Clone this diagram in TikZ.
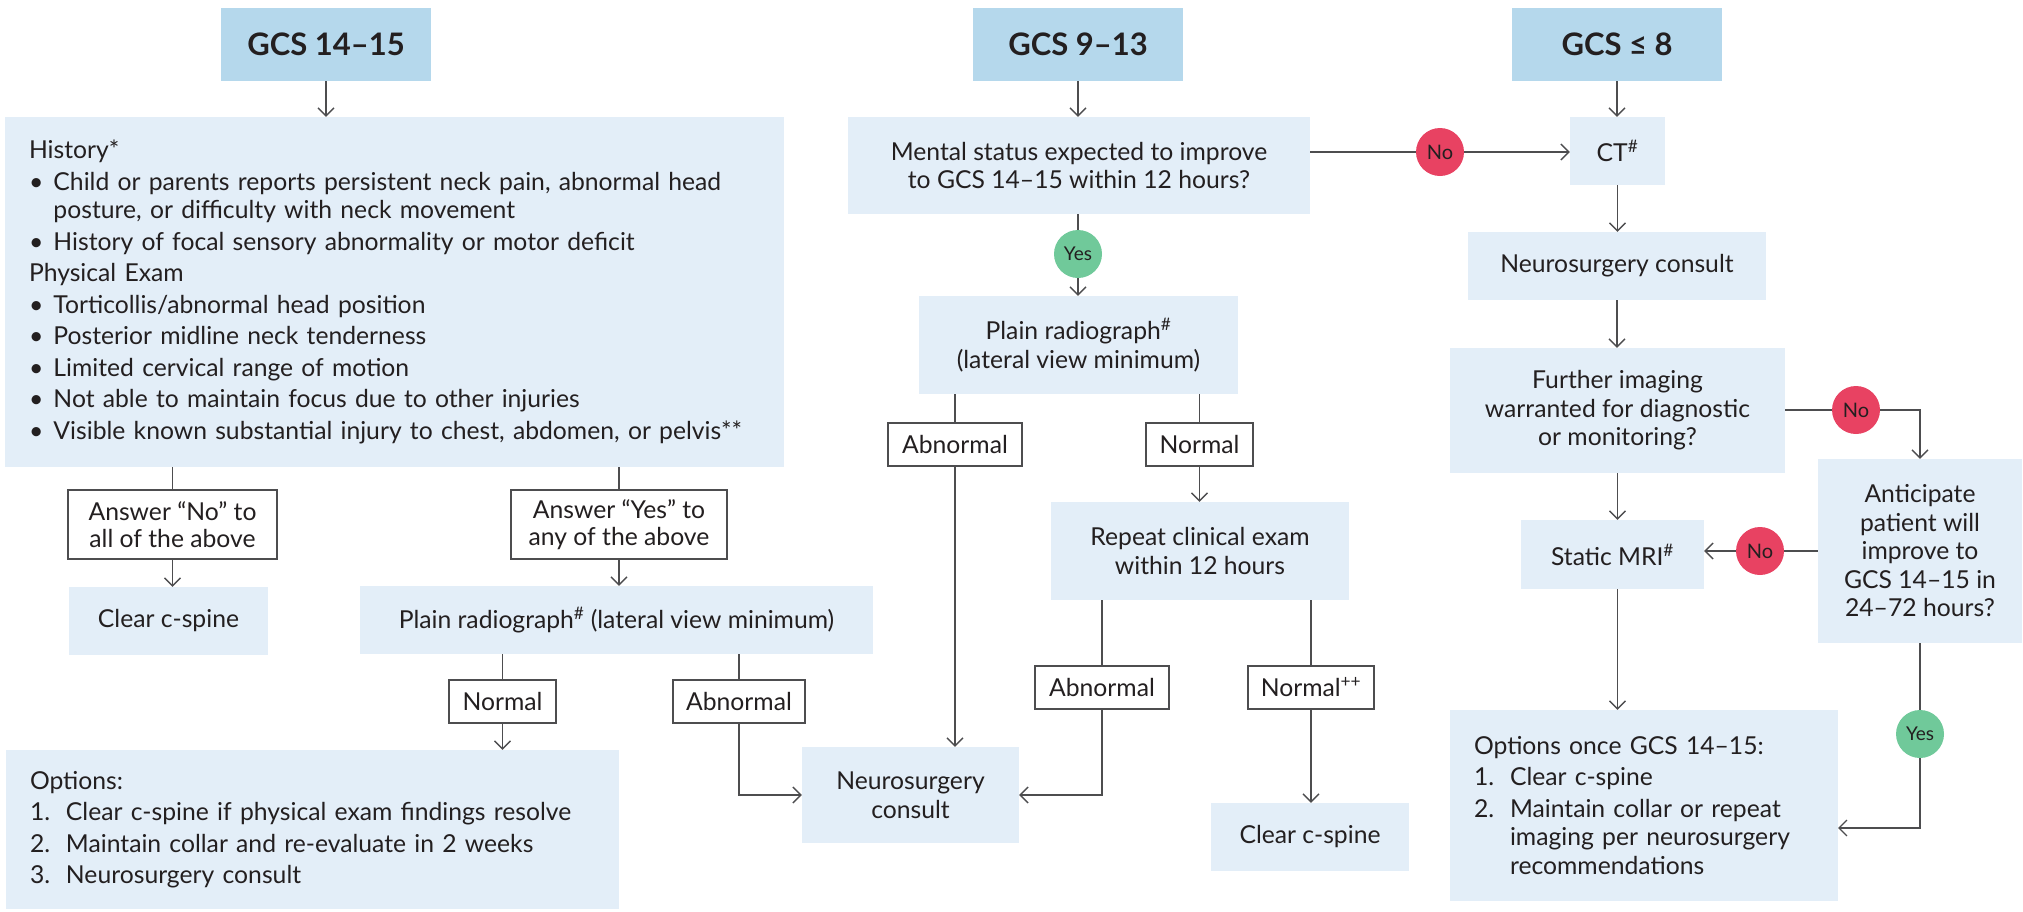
\documentclass[tikz,border=0pt]{standalone}
\usepackage{fontspec}
\setmainfont{Lato}
\usetikzlibrary{arrows.meta}

\definecolor{hdrblue}{HTML}{B5D8EC}
\definecolor{boxblue}{HTML}{E3EEF8}
\definecolor{nored}{HTML}{E84262}
\definecolor{yesgreen}{HTML}{70C99A}
\definecolor{inkgray}{HTML}{231F20}
\definecolor{linegray}{HTML}{4D4D4F}

\begin{document}
\begin{tikzpicture}[
      x = 1pt, y = -1pt,
      every node/.style = {text = inkgray, inner sep = 0pt},
      hdr/.style  = {fill = hdrblue, minimum width = 210pt, minimum height = 73pt,
                     font = \fontsize{31}{36}\selectfont\bfseries},
      box/.style  = {fill = boxblue, align = center, font = \fontsize{24.7}{28.5}\selectfont},
      lbox/.style = {box, align = left},
      tag/.style  = {draw = linegray, fill = white, line width = 1.2pt, align = center,
                     minimum height = 43pt, font = \fontsize{24.7}{27}\selectfont},
      yes/.style  = {circle, fill = yesgreen, minimum size = 48pt, font = \fontsize{19}{21}\selectfont},
      no/.style   = {circle, fill = nored, minimum size = 48pt, font = \fontsize{20}{22}\selectfont},
      ln/.style   = {draw = linegray, line width = 1.3pt},
      arr/.style  = {ln, -{Straight Barb[length = 8pt, width = 16pt]}}
    ]
  \useasboundingbox (0,0) rectangle (2023,911);

  % GCS 14-15 -------------------------------------------------------------
  \node[hdr] (h1) at (326,44.5) {GCS 14–15};
  \node[lbox, minimum width = 779pt, minimum height = 350pt, text width = 731pt] (hist) at (394.5,292)
        {History*\\[3pt]
         \makebox[24.5pt][l]{\textbullet}Child or parents reports persistent neck pain, abnormal head\\
         \hspace*{24.5pt}posture, or difficulty with neck movement\\[3pt]
         \makebox[24.5pt][l]{\textbullet}History of focal sensory abnormality or motor deficit\\[3pt]
         Physical Exam\\[3pt]
         \makebox[24.5pt][l]{\textbullet}Torticollis/abnormal head position\\[3pt]
         \makebox[24.5pt][l]{\textbullet}Posterior midline neck tenderness\\[3pt]
         \makebox[24.5pt][l]{\textbullet}Limited cervical range of motion\\[3pt]
         \makebox[24.5pt][l]{\textbullet}Not able to maintain focus due to other injuries\\[3pt]
         \makebox[24.5pt][l]{\textbullet}Visible known substantial injury to chest, abdomen, or pelvis**};
  \node[tag, minimum width = 209pt, minimum height = 69pt] (ansN) at (172.5,524.5)
        {Answer “No” to\\all of the above};
  \node[tag, minimum width = 216pt, minimum height = 69pt] (ansY) at (619,524.5)
        {Answer “Yes” to\\any of the above};
  \node[box, minimum width = 199pt, minimum height = 68pt] (clrL) at (168.5,621) {Clear c-spine};
  \node[box, minimum width = 513pt, minimum height = 68pt] (xrayL) at (616.5,620)
        {Plain radiograph\textsuperscript{\#} (lateral view minimum)};
  \node[tag, minimum width = 107pt] (nrmL) at (502.5,701.5) {Normal};
  \node[tag, minimum width = 132pt] (abnL) at (739,701.5) {Abnormal};
  \node[lbox, minimum width = 613pt, minimum height = 159pt, text width = 565pt] (optL) at (312.5,829.5)
        {Options:\\[3pt]
         \makebox[36pt][l]{1.}Clear c-spine if physical exam findings resolve\\[3pt]
         \makebox[36pt][l]{2.}Maintain collar and re-evaluate in 2 weeks\\[3pt]
         \makebox[36pt][l]{3.}Neurosurgery consult};

  \draw[arr] (h1.south) -- (h1.south |- hist.north);
  \draw[ln]  (ansN.north |- hist.south) -- (ansN.north);
  \draw[arr] (ansN.south) -- (ansN.south |- clrL.north);
  \draw[ln]  (ansY.north |- hist.south) -- (ansY.north);
  \draw[arr] (ansY.south) -- (ansY.south |- xrayL.north);
  \draw[ln]  (nrmL.north |- xrayL.south) -- (nrmL.north);
  \draw[arr] (nrmL.south) -- (nrmL.south |- optL.north);
  \draw[ln]  (abnL.north |- xrayL.south) -- (abnL.north);

  % GCS 9-13 --------------------------------------------------------------
  \node[hdr] (h2) at (1078,44.5) {GCS 9–13};
  \node[box, minimum width = 462pt, minimum height = 97pt] (ment) at (1079,165.5)
        {Mental status expected to improve\\to GCS 14–15 within 12 hours?};
  \node[yes] (yes1) at (1078,254) {Yes};
  \node[box, minimum width = 319pt, minimum height = 98pt] (xrayM) at (1078.5,345)
        {Plain radiograph\textsuperscript{\#}\\(lateral view minimum)};
  \node[tag, minimum width = 134pt] (abnM) at (955,444.5) {Abnormal};
  \node[tag, minimum width = 107pt] (nrmM) at (1199.5,444.5) {Normal};
  \node[box, minimum width = 298pt, minimum height = 98pt] (rpt) at (1200,551)
        {Repeat clinical exam\\within 12 hours};
  \node[tag, minimum width = 134pt] (abnR) at (1102,687.5) {Abnormal};
  \node[tag, minimum width = 126pt] (nrmR) at (1311,687.5) {Normal\textsuperscript{++}};
  \node[box, minimum width = 217pt, minimum height = 96pt] (nsM) at (910.5,795) {Neurosurgery\\consult};
  \node[box, minimum width = 198pt, minimum height = 68pt] (clrM) at (1310,837) {Clear c-spine};

  \draw[arr] (h2.south) -- (h2.south |- ment.north);
  \draw[ln]  (yes1.north |- ment.south) -- (yes1.north);
  \draw[arr] (yes1.south) -- (yes1.south |- xrayM.north);
  \draw[ln]  (abnM.north |- xrayM.south) -- (abnM.north);
  \draw[arr] (abnM.south) -- (abnM.south |- nsM.north);
  \draw[ln]  (nrmM.north |- xrayM.south) -- (nrmM.north);
  \draw[arr] (nrmM.south) -- (nrmM.south |- rpt.north);
  \draw[ln]  (abnR.north |- rpt.south) -- (abnR.north);
  \draw[arr] (abnR.south) |- (nsM.east);
  \draw[ln]  (nrmR.north |- rpt.south) -- (nrmR.north);
  \draw[arr] (nrmR.south) -- (nrmR.south |- clrM.north);
  \draw[arr] (abnL.south) |- (nsM.west);

  % GCS <= 8 --------------------------------------------------------------
  \node[hdr] (h3) at (1617,44.5) {GCS ≤ 8};
  \node[box, minimum width = 95pt, minimum height = 68pt] (ct) at (1617.5,151) {CT\textsuperscript{\#}};
  \node[no] (no1) at (1440,152) {No};
  \node[box, minimum width = 298pt, minimum height = 68pt] (nsR) at (1617,266) {Neurosurgery consult};
  \node[box, minimum width = 335pt, minimum height = 125pt] (img) at (1617.5,410.5)
        {Further imaging\\warranted for diagnostic\\or monitoring?};
  \node[no] (no2) at (1856,410) {No};
  \node[box, minimum width = 204pt, minimum height = 184pt] (antc) at (1920,551)
        {Anticipate\\patient will\\improve to\\GCS 14–15 in\\24–72 hours?};
  \node[box, minimum width = 183pt, minimum height = 69pt] (mri) at (1612.5,554.5) {Static MRI\textsuperscript{\#}};
  \node[no] (no3) at (1760,551) {No};
  \node[yes] (yes2) at (1920,734) {Yes};
  \node[lbox, minimum width = 388pt, minimum height = 191pt, text width = 340pt] (optR) at (1644,805.5)
        {Options once GCS 14–15:\\[3pt]
         \makebox[36pt][l]{1.}Clear c-spine\\[3pt]
         \makebox[36pt][l]{2.}Maintain collar or repeat\\
         \hspace*{36pt}imaging per neurosurgery\\
         \hspace*{36pt}recommendations};
  \coordinate (optRin) at (1838,828);

  \draw[ln]  (no1.west -| ment.east) -- (no1.west);
  \draw[arr] (no1.east) -- (no1.east -| ct.west);
  \draw[arr] (h3.south) -- (h3.south |- ct.north);
  \draw[arr] (ct.south) -- (ct.south |- nsR.north);
  \draw[arr] (nsR.south) -- (nsR.south |- img.north);
  \draw[arr] (img.south) -- (img.south |- mri.north);
  \draw[arr] (img.south |- mri.south) -- (img.south |- optR.north);
  \draw[ln]  (no2.west -| img.east) -- (no2.west);
  \draw[arr] (no2.east) -| (antc.north);
  \draw[ln]  (antc.west) -- (no3.east);
  \draw[arr] (no3.west) -- (no3.west -| mri.east);
  \draw[ln]  (antc.south) -- (yes2.north);
  \draw[arr] (yes2.south) |- (optRin);

\end{tikzpicture}
\end{document}
